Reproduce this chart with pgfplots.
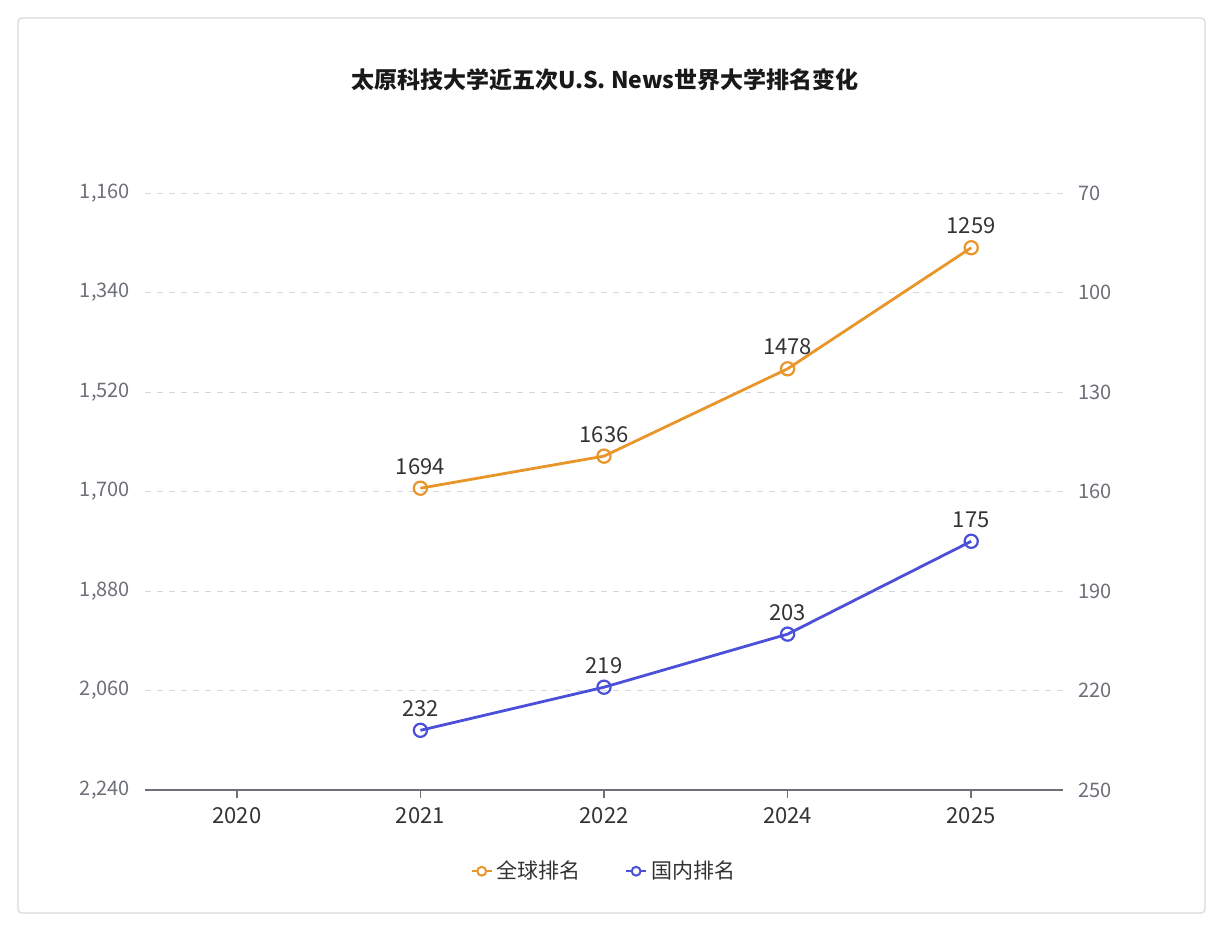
\documentclass[border=0pt]{standalone}
\usepackage{fontspec}
\setmainfont{Noto Sans CJK SC}
\usepackage{pgfplots}
\pgfplotsset{compat=1.18}

\definecolor{cOrange}{HTML}{E8952A}
\definecolor{cBlue}{HTML}{4B50D8}
\definecolor{cTick}{HTML}{6E7079}
\definecolor{cGrid}{HTML}{D5D7DE}
\definecolor{cLabel}{HTML}{333333}

\pgfplotsset{
  frame/.style={
    scale only axis,
    width=459pt, height=298.5pt,
    at={(72.5pt,-395pt)}, anchor=south west,
    xmin=-0.5, xmax=4.5,
    /pgf/number format/assume math mode=true,
    tick label style={font=\fontsize{10}{12}\selectfont, text=cTick},
  },
  common/.style={
    frame,
    y dir=reverse,
    nodes near coords,
    nodes near coords style={font=\fontsize{11}{13}\selectfont, text=cLabel, yshift=3pt,
      /pgf/number format/1000 sep={}},
    every axis plot/.append style={line width=1.4pt, mark=o, mark size=3.3pt,
      mark options={fill=white, line width=1.1pt}},
  }
}

\begin{document}
\begin{tikzpicture}
\path[use as bounding box] (0,0) rectangle (611pt,-467pt);
\draw[rounded corners=2pt, draw=black!15, fill=white, line width=0.6pt] (9pt,-9pt) rectangle (602.5pt,-456.5pt);
\node[font=\bfseries\fontsize{11.5}{13}\selectfont, text=black!90] at (302.5pt,-40pt) {太原科技大学近五次U.S. News世界大学排名变化};

% 全球排名(左轴)
\begin{axis}[
  common,
  ymin=1160, ymax=2240,
  ytick={1160,1340,1520,1700,1880,2060},
  axis y line*=left,
  hide x axis,
  y axis line style={draw=none},
  ytick style={draw=none},
  ymajorgrids,
  grid style={cGrid, dashed, line width=0.5pt},
  yticklabel style={xshift=-4pt},
  extra y ticks={2240},
  extra y tick style={grid=none},
]
\addplot[cOrange] coordinates {(1,1694) (2,1636) (3,1478) (4,1259)};
\end{axis}

% 国内排名(右轴)
\begin{axis}[
  common,
  ymin=70, ymax=250,
  ytick={70,100,130,160,190,220,250},
  axis y line*=right,
  y axis line style={draw=none},
  ytick style={draw=none},
  yticklabel style={xshift=4pt},
  hide x axis,
  legend columns=2,
  legend style={draw=none, fill=none, at={(0.501,-0.136)}, anchor=center,
    font=\fontsize{10.5}{12}\selectfont, text=cLabel,
    /tikz/every even column/.append style={column sep=20pt}},
  legend image code/.code={
    \draw[#1, line width=1.2pt, mark=none] (0pt,0pt) -- (10pt,0pt);
    \draw[#1, line width=1pt, fill=white, mark=none] (5pt,0pt) circle (2.2pt);
  },
]
\addlegendimage{cOrange}
\addlegendentry{全球排名}
\addplot[cBlue] coordinates {(1,232) (2,219) (3,203) (4,175)};
\addlegendentry{国内排名}
\end{axis}

% 类目轴
\begin{axis}[
  frame,
  ymin=0, ymax=1,
  axis x line*=bottom,
  hide y axis,
  x axis line style={draw=cTick, line width=0.6pt, -},
  xtick={0,1,2,3,4},
  xticklabels={2020,2021,2022,2024,2025},
  xticklabel style={font=\fontsize{11}{13}\selectfont, text=cLabel, yshift=-1pt},
  xtick style={draw=cTick, line width=0.8pt},
  tick align=outside,
  major tick length=4pt,
]
\end{axis}

% 类目刻度线
\begin{axis}[
  scale only axis,
  width=459pt, height=2.5pt,
  at={(72.5pt,-395pt)}, anchor=north west,
  xmin=-0.5, xmax=4.5, ymin=0, ymax=1,
  xtick={0,1,2,3,4}, xticklabels={}, ytick=\empty,
  xmajorgrids,
  grid style={cTick, solid, line width=0.6pt},
  axis line style={draw=none},
  tick style={draw=none},
]
\end{axis}
\end{tikzpicture}
\end{document}
